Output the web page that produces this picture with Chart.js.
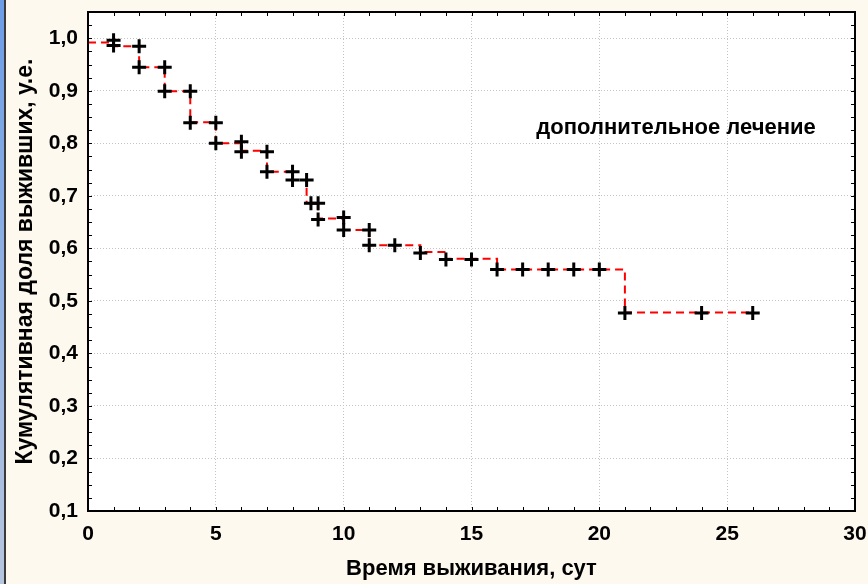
<!DOCTYPE html>
<html>
<head>
<meta charset="utf-8">
<script src="https://cdn.jsdelivr.net/npm/chart.js@4/dist/chart.umd.min.js"></script>
<style>
  html, body { margin: 0; padding: 0; background: #FEF9EE; }
  canvas { display: block; }
</style>
</head>
<body>
<canvas id="c" width="868" height="584"></canvas>
<script>
// Kaplan-Meier step curve (time, cumulative survival)
const curveTimes = [0, 1, 2, 3, 4, 5, 6, 7, 8, 8.55, 9, 10, 11, 13, 14, 16, 21, 26];
const curveSurv  = [0.992, 0.985, 0.945, 0.899, 0.840, 0.800, 0.786, 0.746, 0.730, 0.686, 0.657, 0.635, 0.606, 0.593, 0.580, 0.560, 0.478, 0.478];

// Observation markers (+)
const markTimes = [1, 1, 2, 2, 3, 3, 4, 4, 5, 5, 6, 6, 7, 7, 8, 8, 8.55, 8.72, 9, 9, 10, 10, 11, 11, 12, 13, 14, 15, 16, 17, 18, 19, 20, 21, 24, 26];
const markSurv  = [0.996, 0.986, 0.985, 0.945, 0.945, 0.899, 0.899, 0.839, 0.839, 0.800, 0.803, 0.784, 0.784, 0.746, 0.746, 0.730, 0.730, 0.686, 0.686, 0.655, 0.659, 0.635, 0.635, 0.606, 0.606, 0.591, 0.579, 0.579, 0.560, 0.560, 0.560, 0.560, 0.560, 0.477, 0.477, 0.477];

const xTickValues = [0, 5, 10, 15, 20, 25, 30];
const yTickValues = [0.1, 0.2, 0.3, 0.4, 0.5, 0.6, 0.7, 0.8, 0.9, 1.0];
const xTitle = 'Время выживания, сут';
const yTitle = 'Кумулятивная доля выживших, у.е.';
const noteText = 'дополнительное лечение';
const notePos = { x: 23.0, y: 0.83 };

const FONT = '"Liberation Sans", Arial, sans-serif';

const decor = {
  id: 'decor',
  beforeDraw(chart) {
    const ctx = chart.ctx, a = chart.chartArea;
    ctx.save();
    ctx.fillStyle = '#FEF9EE';
    ctx.fillRect(0, 0, chart.width, chart.height);
    const g = ctx.createLinearGradient(0, 0, 0, chart.height);
    g.addColorStop(0, '#6d9de6');
    g.addColorStop(1, '#b7c6de');
    ctx.fillStyle = g;
    ctx.fillRect(0, 0, 4, chart.height);
    ctx.fillStyle = '#3a3a3a';
    ctx.fillRect(4, 0, 2, chart.height);
    ctx.fillStyle = '#ffffff';
    ctx.fillRect(a.left, a.top, a.right - a.left, a.bottom - a.top);
    ctx.restore();
  },
  afterDraw(chart) {
    const ctx = chart.ctx, a = chart.chartArea;
    const xs = chart.scales.x, ys = chart.scales.y;
    ctx.save();
    ctx.strokeStyle = '#000';
    ctx.lineWidth = 1;
    ctx.beginPath();
    for (let t = 1; t < 30; t += 1) {
      const px = Math.round(xs.getPixelForValue(t)) + 0.5;
      ctx.moveTo(px, a.bottom); ctx.lineTo(px, a.bottom - 4);
      ctx.moveTo(px, a.top); ctx.lineTo(px, a.top + 4);
    }
    for (let i = 1; i < 38; i++) {
      const v = 0.1 + i * 0.025;
      const py = Math.round(ys.getPixelForValue(v)) + 0.5;
      ctx.moveTo(a.left, py); ctx.lineTo(a.left + 4, py);
      ctx.moveTo(a.right, py); ctx.lineTo(a.right - 4, py);
    }
    ctx.stroke();
    ctx.lineWidth = 2;
    ctx.strokeRect(a.left, a.top, a.right - a.left, a.bottom - a.top);
    ctx.fillStyle = '#000';
    ctx.font = 'bold 22px ' + FONT;
    ctx.textAlign = 'center';
    ctx.textBaseline = 'middle';
    ctx.fillText(noteText, xs.getPixelForValue(notePos.x), ys.getPixelForValue(notePos.y));
    ctx.restore();
  }
};

new Chart(document.getElementById('c'), {
  type: 'scatter',
  data: {
    datasets: [
      {
        label: 'curve',
        data: curveTimes.map((t, i) => ({ x: t, y: curveSurv[i] })),
        showLine: true,
        stepped: true,
        borderColor: '#ff0000',
        borderWidth: 2,
        borderDash: [8, 5],
        pointRadius: 0,
        fill: false,
        order: 2
      },
      {
        label: 'obs',
        data: markTimes.map((t, i) => ({ x: t, y: markSurv[i] })),
        showLine: false,
        pointStyle: 'cross',
        pointRadius: 7,
        pointBorderWidth: 3,
        pointBorderColor: '#000',
        pointBackgroundColor: '#000',
        pointHoverRadius: 7,
        order: 1
      }
    ]
  },
  options: {
    responsive: false,
    animation: false,
    events: [],
    layout: { padding: { left: 0, top: 12, right: 13, bottom: 0 } },
    plugins: { legend: { display: false }, tooltip: { enabled: false } },
    scales: {
      x: {
        type: 'linear',
        min: 0, max: 30,
        afterBuildTicks: s => { s.ticks = xTickValues.map(v => ({ value: v })); },
        afterFit: s => { s.height = 73; s.paddingLeft = 0; s.paddingRight = 0; },
        grid: { color: '#c4c4c4', lineWidth: 1, drawTicks: false },
        border: { display: false, dash: [1, 2] },
        ticks: {
          padding: 11,
          color: '#000',
          font: { family: FONT, size: 21, weight: 'bold' },
          maxRotation: 0,
          callback: v => String(v)
        },
        title: {
          display: true,
          text: xTitle,
          color: '#000',
          font: { family: FONT, size: 22, weight: 'bold' },
          padding: { top: 0, bottom: 2 }
        }
      },
      y: {
        type: 'linear',
        min: 0.1, max: 1.05,
        afterBuildTicks: s => { s.ticks = yTickValues.map(v => ({ value: v })); },
        afterFit: s => { s.width = 88; s.paddingTop = 0; s.paddingBottom = 0; },
        grid: { color: '#c4c4c4', lineWidth: 1, drawTicks: false },
        border: { display: false, dash: [1, 2] },
        ticks: {
          padding: 10,
          color: '#000',
          font: { family: FONT, size: 21, weight: 'bold' },
          callback: v => v.toFixed(1).replace('.', ',')
        },
        title: {
          display: true,
          text: yTitle,
          color: '#000',
          font: { family: FONT, size: 23, weight: 'bold' },
          padding: { top: 11.5, bottom: 0 }
        }
      }
    }
  },
  plugins: [decor]
});
</script>
</body>
</html>
